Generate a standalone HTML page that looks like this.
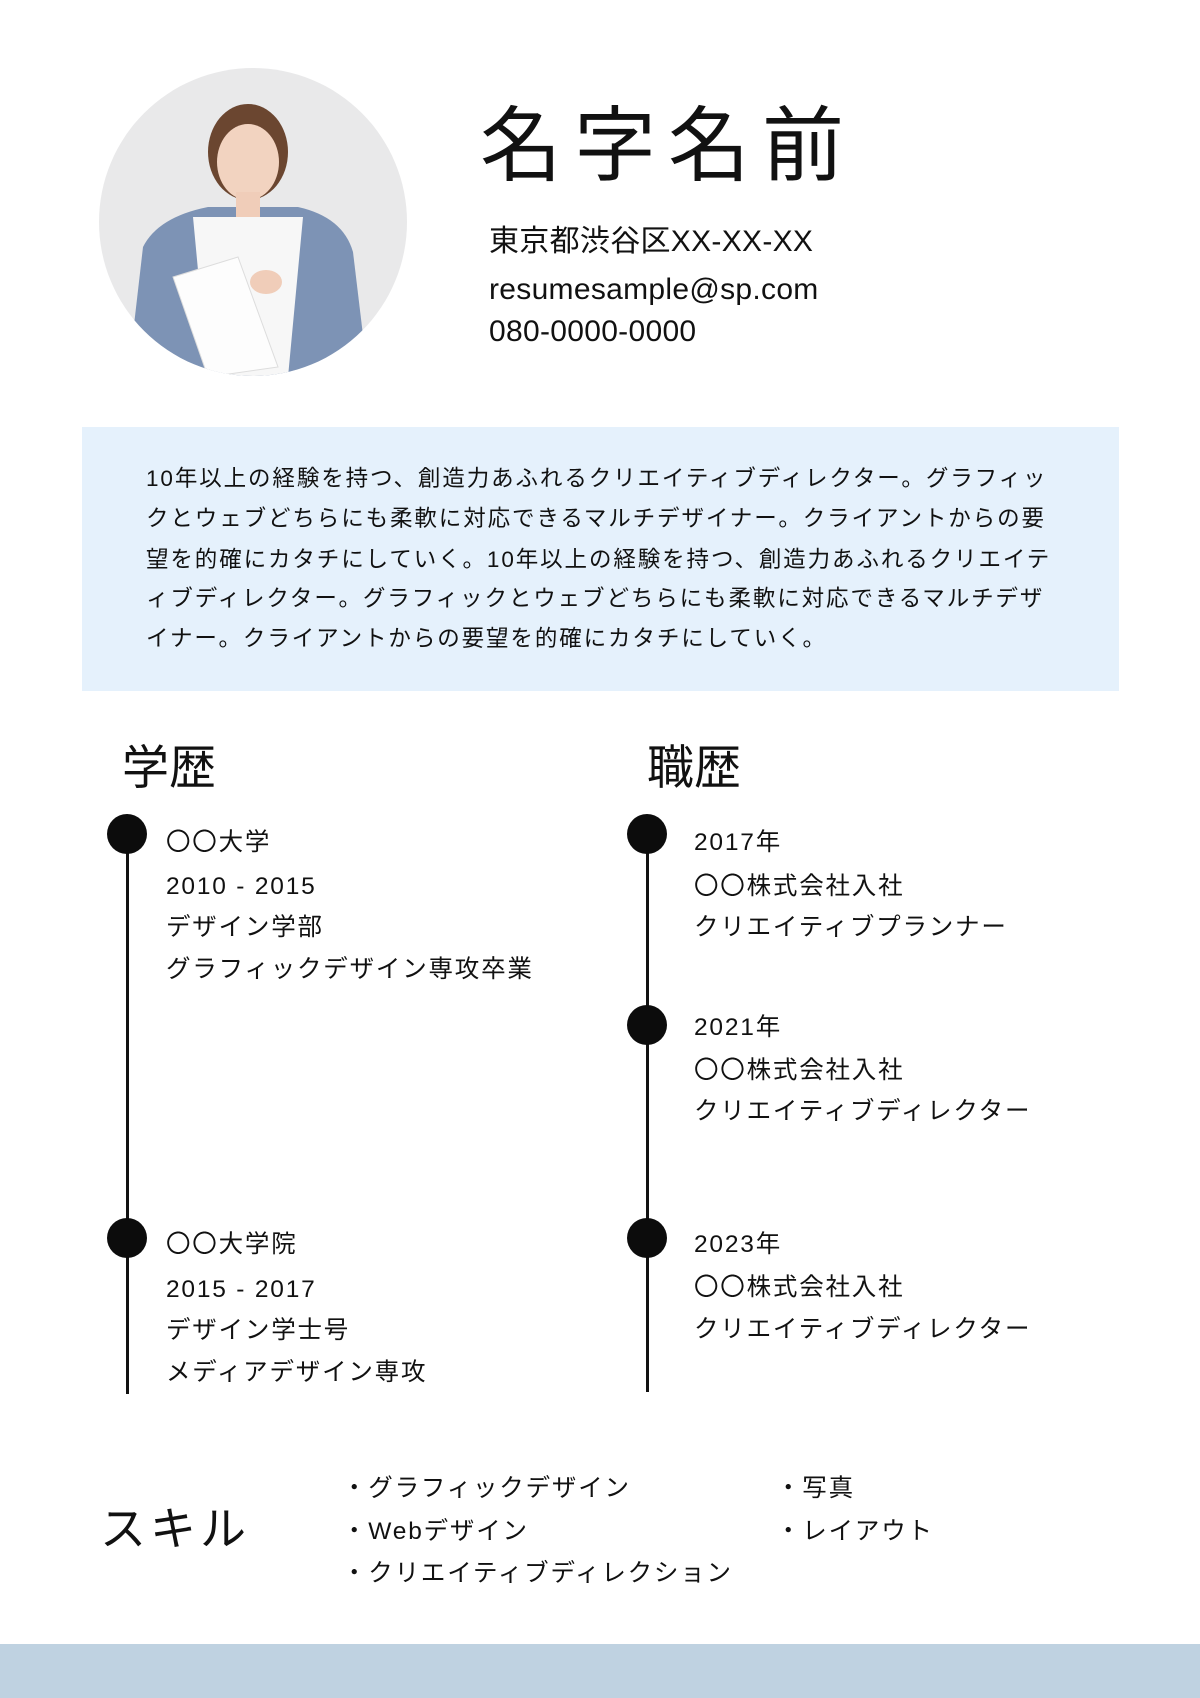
<!DOCTYPE html>
<html><head><meta charset="utf-8"><style>
*{margin:0;padding:0;box-sizing:border-box}
body{width:1200px;height:1698px;background:#fff;position:relative;overflow:hidden;font-family:"Liberation Sans","Noto Sans CJK JP",sans-serif;color:#111}
.a{position:absolute;white-space:nowrap;line-height:1}
.name{left:480px;top:98px;font-size:82px;letter-spacing:12px;font-family:"Noto Sans CJK JP",sans-serif;font-weight:400}
.c{font-size:30px;left:489px;letter-spacing:0.3px}
.box{position:absolute;left:82px;top:427px;width:1037px;height:264px;background:#e5f1fc}
.p{left:146px;font-size:22.5px;letter-spacing:1.9px}
.h{font-size:47px;font-family:"Noto Sans CJK JP",sans-serif}
.t{font-size:24.5px;letter-spacing:1.8px}
.line{position:absolute;width:3px;background:#111}
.dot{position:absolute;width:40px;height:40px;border-radius:50%;background:#0c0c0c}
.bar{position:absolute;left:0;top:1644px;width:1200px;height:54px;background:#bfd2e1}
</style></head><body>
<svg style="position:absolute;left:98px;top:67px" width="310" height="310" viewBox="0 0 310 310">
<defs><clipPath id="cp"><circle cx="155" cy="155" r="154"/></clipPath></defs>
<g clip-path="url(#cp)">
<rect width="310" height="310" fill="#e9e9ea"/>
<path d="M30 310 L45 180 Q60 150 110 140 L200 140 Q245 150 255 185 L270 310Z" fill="#7d93b5"/>
<path d="M95 150 L205 150 L190 310 L110 310Z" fill="#f7f7f7"/>
<path d="M75 210 L140 190 L180 300 L110 310Z" fill="#fdfdfd" stroke="#ddd"/>
<ellipse cx="150" cy="85" rx="40" ry="48" fill="#6b4630"/>
<ellipse cx="150" cy="95" rx="31" ry="38" fill="#f2d3c0"/>
<rect x="138" y="125" width="24" height="25" fill="#f0cdb9"/>
<ellipse cx="168" cy="215" rx="16" ry="12" fill="#f0cdb9"/>
</g></svg>
<div class="a name">名字名前</div>
<div class="a c" style="top:227px">東京都渋谷区XX-XX-XX</div>
<div class="a c" style="top:275px">resumesample@sp.com</div>
<div class="a c" style="top:317px">080-0000-0000</div>
<div class="box"></div>
<div class="a p" style="top:468px">10年以上の経験を持つ、創造力あふれるクリエイティブディレクター。グラフィッ</div>
<div class="a p" style="top:508px">クとウェブどちらにも柔軟に対応できるマルチデザイナー。クライアントからの要</div>
<div class="a p" style="top:549px">望を的確にカタチにしていく。10年以上の経験を持つ、創造力あふれるクリエイテ</div>
<div class="a p" style="top:588px">ィブディレクター。グラフィックとウェブどちらにも柔軟に対応できるマルチデザ</div>
<div class="a p" style="top:628px">イナー。クライアントからの要望を的確にカタチにしていく。</div>
<div class="a h" style="left:122px;top:740px">学歴</div>
<div class="a h" style="left:647px;top:740px">職歴</div>
<div class="line" style="left:126px;top:834px;height:560px"></div>
<div class="dot" style="left:107px;top:814px"></div>
<div class="dot" style="left:107px;top:1218px"></div>
<div class="line" style="left:646px;top:834px;height:558px"></div>
<div class="dot" style="left:627px;top:814px"></div>
<div class="dot" style="left:627px;top:1005px"></div>
<div class="dot" style="left:627px;top:1218px"></div>
<div class="a t" style="left:166px;top:831px">〇〇大学</div>
<div class="a t" style="left:166px;top:875px">2010 - 2015</div>
<div class="a t" style="left:166px;top:916px">デザイン学部</div>
<div class="a t" style="left:166px;top:958px">グラフィックデザイン専攻卒業</div>
<div class="a t" style="left:166px;top:1233px">〇〇大学院</div>
<div class="a t" style="left:166px;top:1278px">2015 - 2017</div>
<div class="a t" style="left:166px;top:1319px">デザイン学士号</div>
<div class="a t" style="left:166px;top:1361px">メディアデザイン専攻</div>
<div class="a t" style="left:694px;top:831px">2017年</div>
<div class="a t" style="left:694px;top:875px">〇〇株式会社入社</div>
<div class="a t" style="left:694px;top:916px">クリエイティブプランナー</div>
<div class="a t" style="left:694px;top:1016px">2021年</div>
<div class="a t" style="left:694px;top:1059px">〇〇株式会社入社</div>
<div class="a t" style="left:694px;top:1100px">クリエイティブディレクター</div>
<div class="a t" style="left:694px;top:1233px">2023年</div>
<div class="a t" style="left:694px;top:1276px">〇〇株式会社入社</div>
<div class="a t" style="left:694px;top:1318px">クリエイティブディレクター</div>
<div class="a h" style="left:100px;top:1503px;font-size:46px;letter-spacing:4px">スキル</div>
<div class="a t" style="left:342px;top:1477px">・グラフィックデザイン</div>
<div class="a t" style="left:342px;top:1520px">・Webデザイン</div>
<div class="a t" style="left:342px;top:1562px">・クリエイティブディレクション</div>
<div class="a t" style="left:776px;top:1477px">・写真</div>
<div class="a t" style="left:776px;top:1520px">・レイアウト</div>
<div class="bar"></div>
</body></html>
